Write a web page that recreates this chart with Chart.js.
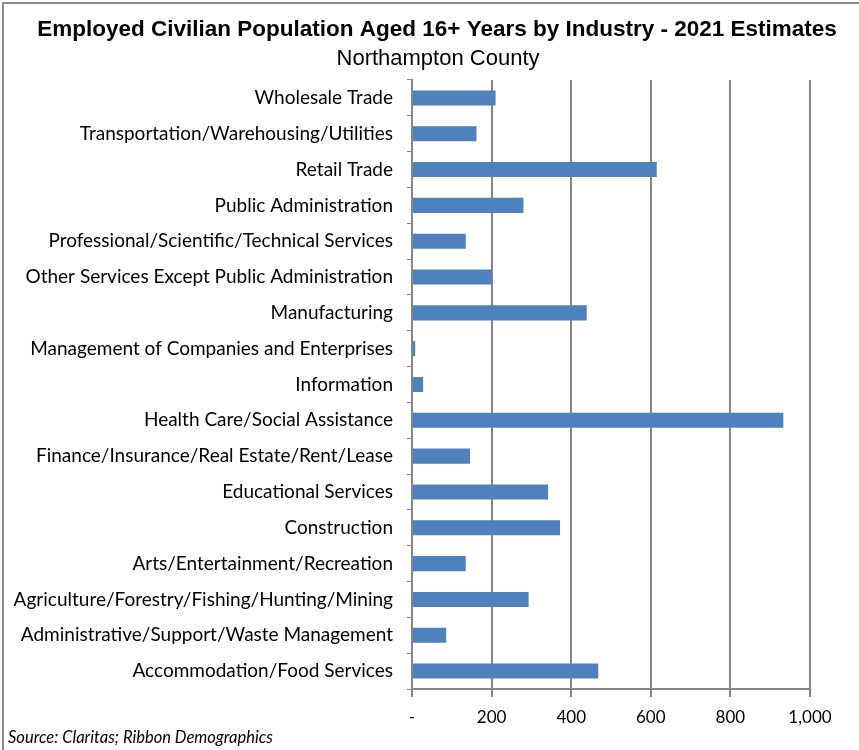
<!DOCTYPE html>
<html>
<head>
<meta charset="utf-8">
<script src="https://cdn.jsdelivr.net/npm/chart.js@4.4.1/dist/chart.umd.min.js"></script>
<style>
  html, body { margin: 0; padding: 0; background: #fff; }
  #wrap { width: 859px; height: 750px; position: relative; }
</style>
</head>
<body>
<div id="wrap"><canvas id="myChart" width="859" height="750"></canvas></div>
<script>
// data
const industries = [
    'Wholesale Trade',
    'Transportation/Warehousing/Utilities',
    'Retail Trade',
    'Public Administration',
    'Professional/Scientific/Technical Services',
    'Other Services Except Public Administration',
    'Manufacturing',
    'Management of Companies and Enterprises',
    'Information',
    'Health Care/Social Assistance',
    'Finance/Insurance/Real Estate/Rent/Lease',
    'Educational Services',
    'Construction',
    'Arts/Entertainment/Recreation',
    'Agriculture/Forestry/Fishing/Hunting/Mining',
    'Administrative/Support/Waste Management',
    'Accommodation/Food Services'
]
const employed = [210, 162, 615, 280, 135, 200, 439, 8, 28, 933, 146, 342, 372, 135, 293, 86, 468]
const xTicks = [0, 200, 400, 600, 800, 1000]

const chartTitle = 'Employed Civilian Population Aged 16+ Years by Industry - 2021 Estimates'
const chartSubtitle = 'Northampton County'
const sourceNote = 'Source: Claritas; Ribbon Demographics'

const labelFont = "Lato, 'Open Sans', sans-serif"
const titleFont = "'Liberation Sans', Arial, sans-serif"
const gridGray = '#868686'

// frame, titles (centred on the whole frame, not the plot) + source note
const framePlugin = {
    id: 'frame',
    beforeDraw(chart) {
        const ctx = chart.ctx
        ctx.save()
        ctx.fillStyle = '#fff'
        ctx.fillRect(0, 0, chart.width, chart.height)
        ctx.strokeStyle = '#8c8c8c'
        ctx.lineWidth = 2
        ctx.strokeRect(3, 3, chart.width + 10, chart.height + 10)
        ctx.restore()
    },
    afterDraw(chart) {
        const ctx = chart.ctx
        ctx.save()
        ctx.fillStyle = '#000'
        ctx.textAlign = 'center'
        ctx.textBaseline = 'middle'
        ctx.font = 'bold 22.5px ' + titleFont
        ctx.fillText(chartTitle, 437, 30)
        ctx.font = '22px ' + titleFont
        ctx.fillText(chartSubtitle, 438, 59)

        ctx.textAlign = 'left'
        ctx.textBaseline = 'alphabetic'
        ctx.font = 'italic 16.5px ' + labelFont
        ctx.fillText(sourceNote, 8, 743)
        ctx.restore()
    }
}

const config = {
    type: 'bar',
    data: {
        labels: industries,
        datasets: [{
            label: 'Employed',
            data: employed,
            backgroundColor: '#4f81bd',
            borderWidth: 0,
            categoryPercentage: 1,
            barPercentage: 0.42
        }]
    },
    plugins: [framePlugin],
    options: {
        indexAxis: 'y',
        responsive: false,
        animation: false,
        layout: { padding: { left: 0, right: 49, top: 80, bottom: 0 } },
        plugins: {
            legend: { display: false },
            tooltip: { enabled: false },
            title: { display: false }
        },
        scales: {
            x: {
                min: 0,
                max: 1000,
                afterBuildTicks(scale) {
                    scale.ticks = xTicks.map(v => ({ value: v }))
                },
                afterFit(scale) { scale.height = 61 },
                border: { color: gridGray, width: 2 },
                grid: { color: gridGray, lineWidth: 2, tickLength: 8 },
                ticks: {
                    color: '#000',
                    padding: 10,
                    font: { family: labelFont, size: 17 },
                    callback: v => v === 0 ? '-' : v.toLocaleString('en-US')
                }
            },
            y: {
                afterFit(scale) { scale.width = 412 },
                border: { color: gridGray, width: 2 },
                grid: { drawOnChartArea: false, color: gridGray, lineWidth: 1, tickLength: 5 },
                ticks: {
                    color: '#000',
                    padding: 14,
                    font: { family: labelFont, size: 19 }
                }
            }
        }
    }
}

const myChart = new Chart(document.getElementById('myChart'), config)
</script>
</body>
</html>
